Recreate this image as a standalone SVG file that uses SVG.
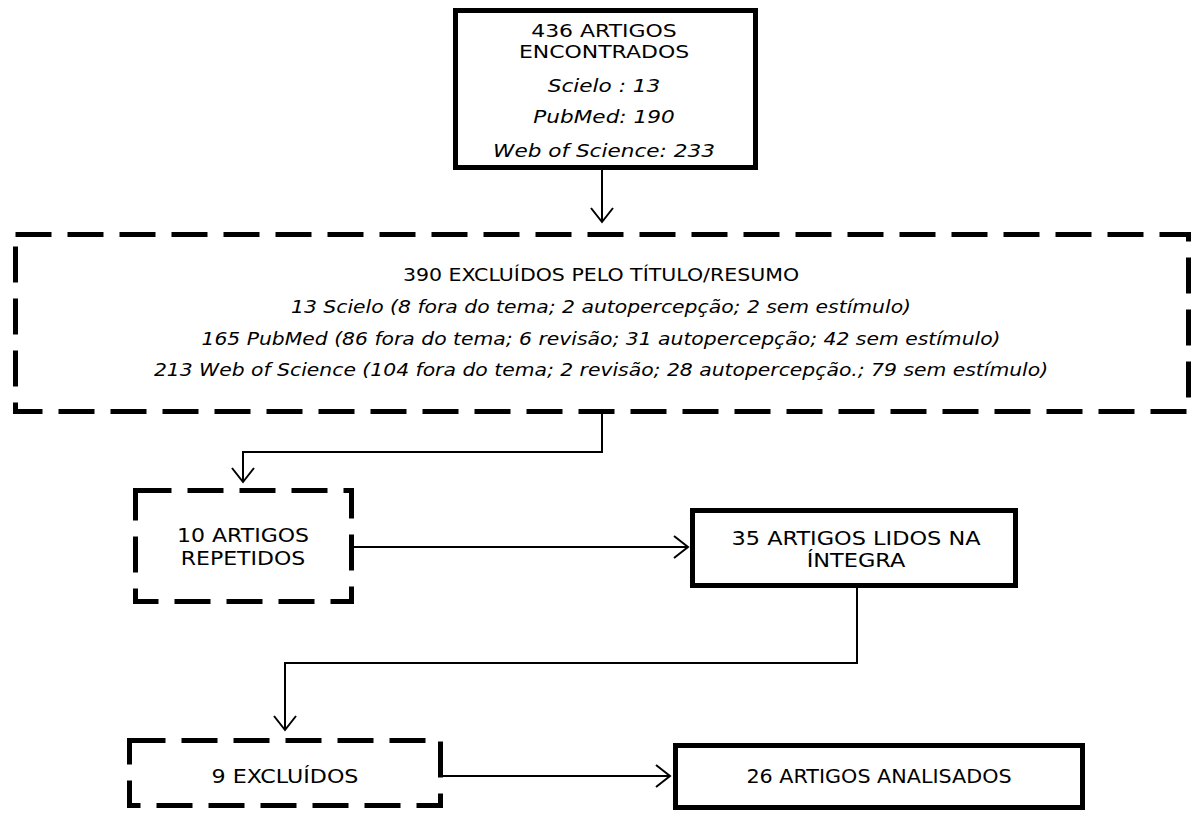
<svg xmlns="http://www.w3.org/2000/svg" width="1197" height="813" viewBox="0 0 1197 813">
<defs>
<style>
.solid{fill:#fff;stroke:#000;stroke-width:5}
.dash{fill:#fff;stroke:#000;stroke-width:5;stroke-dasharray:36 16}
.t{font-family:"DejaVu Sans","Verdana",sans-serif;font-size:18px;fill:#000;text-anchor:middle}
.f20{font-size:20px}
.f19{font-size:19px}
.i{font-style:italic}
.c{fill:none;stroke:#000;stroke-width:2}
</style>
<marker id="arr" viewBox="-16 -13 18 26" markerWidth="18" markerHeight="26" refX="0" refY="0" orient="auto" markerUnits="userSpaceOnUse">
<path d="M-14,-11 L0,0 L-14,11" fill="none" stroke="#000" stroke-width="2"/>
</marker>
</defs>
<rect width="1197" height="813" fill="#fff"/>
<g id="connectors">
<path class="c" d="M602 170 V222" marker-end="url(#arr)"/>
<path class="c" d="M602 413 V452 H243 V482" marker-end="url(#arr)"/>
<path class="c" d="M353 547 H688" marker-end="url(#arr)"/>
<path class="c" d="M857 588 V663 H285 V730" marker-end="url(#arr)"/>
<path class="c" d="M442 776 H670" marker-end="url(#arr)"/>
</g>
<g id="encontrados">
<rect class="solid" x="455.5" y="10.5" width="300" height="157"/>
<text class="t" transform="translate(604 37) scale(1.22 1)">436 ARTIGOS</text>
<text class="t" transform="translate(604 58) scale(1.22 1)">ENCONTRADOS</text>
<text class="t i" transform="translate(604 92) scale(1.2 1)">Scielo : 13</text>
<text class="t i" transform="translate(604 123) scale(1.2 1)">PubMed: 190</text>
<text class="t i" transform="translate(604 157) scale(1.2 1)">Web of Science: 233</text>
</g>
<g id="excluidos-titulo">
<rect class="dash" x="15.5" y="234.5" width="1173" height="177"/>
<text class="t" transform="translate(601 281) scale(1.14 1)">390 EXCLUÍDOS PELO TÍTULO/RESUMO</text>
<text class="t i" transform="translate(601 313) scale(1.13 1)">13 Scielo (8 fora do tema; 2 autopercepção; 2 sem estímulo)</text>
<text class="t i" transform="translate(601 345) scale(1.13 1)">165 PubMed (86 fora do tema; 6 revisão; 31 autopercepção; 42 sem estímulo)</text>
<text class="t i" transform="translate(601 376) scale(1.13 1)">213 Web of Science (104 fora do tema; 2 revisão; 28 autopercepção.; 79 sem estímulo)</text>
</g>
<g id="repetidos">
<rect class="dash" x="135.5" y="490.5" width="216" height="111"/>
<text class="t f20" transform="translate(243 542) scale(1.1 1)">10 ARTIGOS</text>
<text class="t f20" transform="translate(243 565) scale(1.1 1)">REPETIDOS</text>
</g>
<g id="lidos">
<rect class="solid" x="692.5" y="510.5" width="323" height="75"/>
<text class="t f19" transform="translate(856 545) scale(1.18 1)">35 ARTIGOS LIDOS NA</text>
<text class="t f19" transform="translate(856 567) scale(1.18 1)">ÍNTEGRA</text>
</g>
<g id="excluidos9">
<rect class="dash" x="129.5" y="740.5" width="311" height="65"/>
<text class="t f20" transform="translate(285 783) scale(1.11 1)">9 EXCLUÍDOS</text>
</g>
<g id="analisados">
<rect class="solid" x="675.5" y="745.5" width="407" height="62"/>
<text class="t f19" transform="translate(879 783) scale(1.09 1)">26 ARTIGOS ANALISADOS</text>
</g>
</svg>
